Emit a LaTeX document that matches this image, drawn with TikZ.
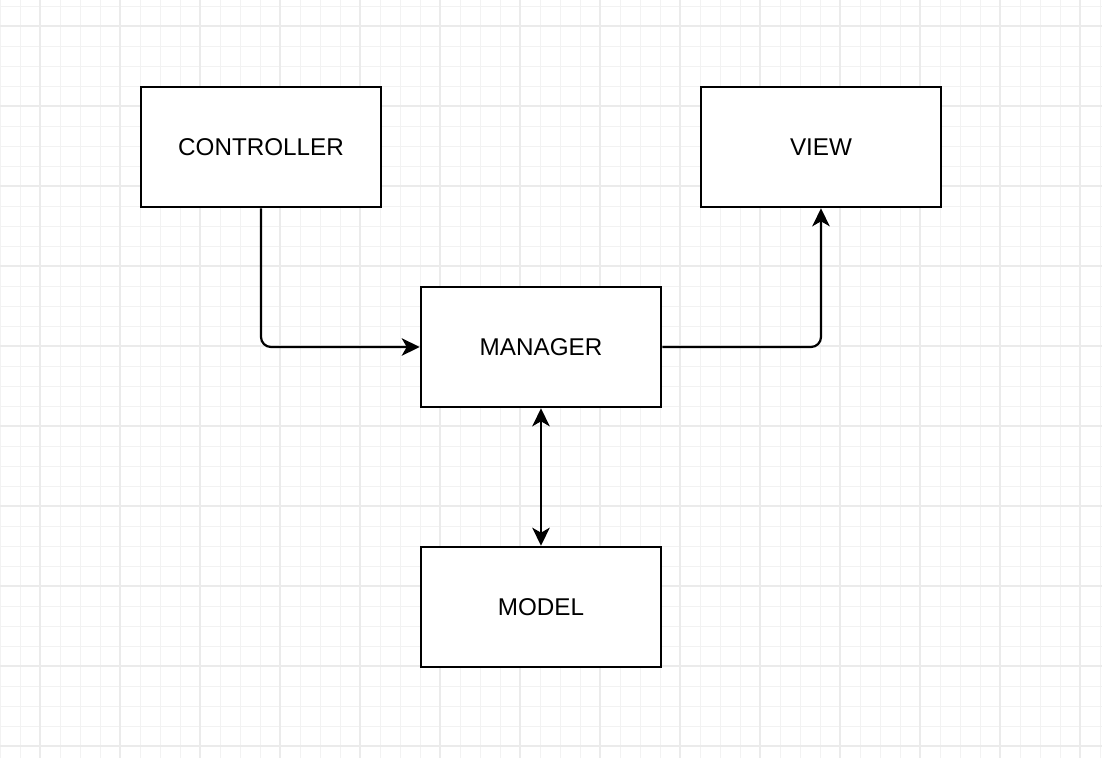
\documentclass[tikz,border=0pt]{standalone}
\usepackage{fontspec}
\setmainfont{Liberation Sans}
\usetikzlibrary{arrows.meta}
\tikzset{
  minorgrid/.style = {draw=black!5, line width=0.5pt},
  majorgrid/.style = {draw=black!8, line width=0.6pt},
  block/.style = {draw=black, fill=white, line width=1.5pt, minimum width=4.8cm, minimum height=2.4cm,
    inner sep=0pt, font=\fontsize{13.8pt}{16pt}\selectfont},
  link/.style = {line width=1.25pt, rounded corners=0.2cm},
}
\begin{document}
\begin{tikzpicture}[x=0.02cm, y=-0.02cm, >={Stealth[length=0.36cm, width=0.35cm, inset=0.1cm]}]

\useasboundingbox (0,0) rectangle (1102,758);
\fill[white] (0,0) rectangle (1102,758);

% background grid
\foreach \x in {0,20,...,1100} \draw[minorgrid] (\x,0) -- (\x,758);
\foreach \y in {6,26,...,746} \draw[minorgrid] (0,\y) -- (1102,\y);
\foreach \x in {40,120,...,1080} \draw[majorgrid] (\x,0) -- (\x,758);
\foreach \y in {26,106,...,746} \draw[majorgrid] (0,\y) -- (1102,\y);

% blocks
\node[block] (controller) at (261,147) {CONTROLLER};
\node[block] (view) at (821,147) {VIEW};
\node[block] (manager) at (541,347) {MANAGER};
\node[block] (model) at (541,607) {MODEL};

% links
\draw[link, ->] (controller.south) |- (manager.west);
\draw[link, ->] (manager.east) -| (view.south);
\draw[link, <->] (manager.south) -- (model.north);

\end{tikzpicture}
\end{document}
